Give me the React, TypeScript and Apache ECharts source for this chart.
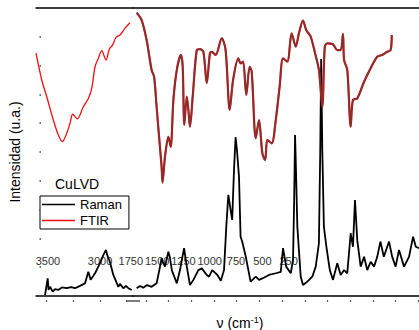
import React, { useEffect, useRef } from "react";
import * as echarts from "echarts";

// Raman spectrum, high-wavenumber segment [cm-1, intensity u.a.]
const ramanHigh: [number, number][] = [
  [3515, 0.003], [3490, 0.061], [3482, 0.021], [3468, 0.032], [3443, 0.015], [3421, 0.024],
  [3390, 0.021], [3356, 0.030], [3311, 0.027], [3271, 0.031], [3233, 0.027], [3186, 0.035],
  [3139, 0.044], [3108, 0.084], [3086, 0.056], [3045, 0.079], [2998, 0.114], [2967, 0.142],
  [2942, 0.160], [2928, 0.139], [2911, 0.125], [2895, 0.104], [2873, 0.073], [2853, 0.056],
  [2826, 0.032], [2810, 0.042], [2779, 0.027], [2754, 0.035], [2732, 0.027], [2700, 0.021],
];
// Raman spectrum, low-wavenumber segment
const ramanLow: [number, number][] = [
  [1741, 0.027], [1726, 0.035], [1712, 0.029], [1695, 0.038], [1675, 0.032], [1653, 0.044],
  [1641, 0.090], [1631, 0.131], [1625, 0.118], [1616, 0.102], [1601, 0.154], [1594, 0.132],
  [1586, 0.090], [1564, 0.044], [1550, 0.090], [1532, 0.166], [1520, 0.102], [1506, 0.038],
  [1491, 0.056], [1469, 0.090], [1454, 0.096], [1432, 0.073], [1422, 0.067], [1408, 0.090],
  [1385, 0.073], [1370, 0.053], [1356, 0.090], [1346, 0.241], [1337, 0.351], [1327, 0.299],
  [1320, 0.264], [1312, 0.438], [1305, 0.552], [1299, 0.507], [1290, 0.414], [1283, 0.206],
  [1276, 0.189], [1260, 0.136], [1239, 0.050], [1216, 0.067], [1202, 0.056], [1187, 0.061],
  [1158, 0.073], [1128, 0.079], [1106, 0.084], [1096, 0.166], [1082, 0.102], [1062, 0.079],
  [1052, 0.125], [1047, 0.333], [1043, 0.559], [1039, 0.438], [1033, 0.241], [1018, 0.067],
  [1008, 0.038], [989, 0.050], [967, 0.067], [952, 0.102], [938, 0.183], [932, 0.507],
  [928, 0.823], [923, 0.507], [916, 0.241], [905, 0.171], [890, 0.090], [876, 0.056],
  [857, 0.114], [842, 0.073], [827, 0.090], [813, 0.079], [798, 0.218], [788, 0.171],
  [779, 0.333], [769, 0.194], [754, 0.102], [739, 0.136], [725, 0.090], [710, 0.119],
  [695, 0.102], [681, 0.136], [667, 0.189], [652, 0.136], [629, 0.189], [615, 0.136],
  [600, 0.102], [585, 0.160], [563, 0.102], [541, 0.136], [523, 0.206], [511, 0.171],
  [497, 0.166],
];
// FTIR spectrum, high-wavenumber segment
const ftirHigh: [number, number][] = [
  [3600, 0.843], [3546, 0.750], [3499, 0.692], [3437, 0.611], [3390, 0.559], [3353, 0.536],
  [3311, 0.565], [3280, 0.600], [3255, 0.631], [3212, 0.615], [3155, 0.657], [3108, 0.686],
  [3076, 0.721], [3045, 0.796], [3014, 0.825], [2982, 0.852], [2942, 0.819], [2911, 0.857],
  [2879, 0.872], [2848, 0.898], [2810, 0.906], [2763, 0.930], [2716, 0.949],
];
// FTIR spectrum, low-wavenumber segment
const ftirLow: [number, number][] = [
  [1741, 0.984], [1719, 0.958], [1697, 0.889], [1675, 0.785], [1664, 0.761], [1653, 0.657],
  [1641, 0.542], [1631, 0.449], [1627, 0.394], [1616, 0.484], [1601, 0.553], [1591, 0.518],
  [1579, 0.681], [1564, 0.785], [1546, 0.837], [1538, 0.796], [1531, 0.594], [1520, 0.692],
  [1513, 0.646], [1506, 0.588], [1494, 0.692], [1476, 0.854], [1462, 0.857], [1447, 0.848],
  [1432, 0.739], [1418, 0.843], [1410, 0.848], [1393, 0.837], [1366, 0.895], [1349, 0.854],
  [1331, 0.646], [1316, 0.750], [1293, 0.825], [1283, 0.808], [1272, 0.814], [1258, 0.698],
  [1243, 0.796], [1234, 0.779], [1216, 0.548], [1202, 0.611], [1187, 0.495], [1175, 0.472],
  [1165, 0.542], [1146, 0.530], [1128, 0.611], [1111, 0.727], [1096, 0.825], [1077, 0.814],
  [1058, 0.912], [1040, 0.866], [1026, 0.912], [1008, 0.956], [994, 0.924], [974, 0.900],
  [955, 0.843], [938, 0.785], [923, 0.657], [912, 0.866], [901, 0.877], [876, 0.874],
  [857, 0.854], [842, 0.854], [832, 0.910], [827, 0.819], [813, 0.785], [798, 0.588],
  [788, 0.681], [769, 0.686], [739, 0.744], [710, 0.791], [681, 0.831], [659, 0.837],
  [637, 0.848], [622, 0.854], [617, 0.906],
];

// tick labels / tick values
const highLabels = [3500, 3000];
const lowLabels = [1750, 1500, 1250, 1000, 750, 500, 250];
const highTicks = [3500, 3250, 3000, 2750];
const lowTicks = [1700, 1600, 1500, 1400, 1300, 1200, 1100, 1000, 900, 800, 700, 600, 500];
const yTicks = [0.1, 0.2, 0.3, 0.4, 0.5, 0.6, 0.7, 0.8, 0.9];

const FONT = "'Liberation Sans', Arial, sans-serif";

export default function App() {
  const ref = useRef<HTMLDivElement>(null);
  useEffect(() => {
    if (!ref.current) return;
    const chart = echarts.init(ref.current, undefined, { renderer: "svg" });
    const hidden = { show: false };
    const lineAxis = (grid: number, min: number, max: number) => ({
      type: "value", gridIndex: grid, position: "bottom", min, max, inverse: true,
      axisLine: { show: true, onZero: false, lineStyle: { color: "#000", width: 1.5 } },
      axisTick: hidden, axisLabel: hidden, splitLine: hidden,
    });
    const tickAxis = (grid: number, min: number, max: number, ticks: number[]) => ({
      type: "value", gridIndex: grid, position: "bottom", offset: 4, min, max, inverse: true,
      axisLine: { show: false, onZero: false },
      axisTick: { show: true, customValues: ticks, length: 2, lineStyle: { color: "#555", width: 1.2 } },
      axisLabel: hidden, splitLine: hidden,
    });
    const labelAxis = (grid: number, min: number, max: number, labels: number[]) => ({
      type: "value", gridIndex: grid, position: "bottom", offset: -43, min, max, inverse: true,
      axisLine: { show: false, onZero: false }, axisTick: hidden, splitLine: hidden,
      axisLabel: {
        show: true, customValues: labels, margin: 2, fontSize: 11, color: "#333", fontFamily: FONT,
        hideOverlap: false, showMinLabel: true, showMaxLabel: true,
        formatter: (v: number) => String(v),
      },
    });
    const topAxis = (grid: number, min: number, max: number) => ({
      type: "value", gridIndex: grid, position: "top", min, max, inverse: true,
      axisLine: { show: true, onZero: false, lineStyle: { color: "#000", width: 1.5 } },
      axisTick: hidden, axisLabel: hidden, splitLine: hidden,
    });
    const option: any = {
      animation: false,
      backgroundColor: "#fff",
      textStyle: { fontFamily: FONT },
      title: {
        text: "CuLVD", left: 55, top: 177, padding: 0,
        textStyle: { fontSize: 14, fontWeight: "normal", color: "#000", fontFamily: FONT },
      },
      legend: {
        data: ["Raman", "FTIR"], orient: "vertical", left: 40, top: 196,
        icon: "rect", itemWidth: 33, itemHeight: 1.5, itemGap: 1, itemTextGap: 5,
        padding: [1, 7, 1, 2],
        borderColor: "#000", borderWidth: 1, backgroundColor: "#fff",
        textStyle: { fontSize: 13, color: "#000", fontFamily: FONT, lineHeight: 15 },
      },
      grid: [
        { left: 36, right: 286, top: 8, bottom: 34 },
        { left: 133, right: 0, top: 8, bottom: 34 },
        { left: 110, right: 109, top: 8, bottom: 34 },
      ],
      xAxis: [
        lineAxis(0, 2688, 3600),
        tickAxis(0, 2688, 3600, highTicks),
        labelAxis(0, 2683, 3615, highLabels),
        topAxis(0, 2688, 3600),
        lineAxis(1, 497, 1757),
        tickAxis(1, 497, 1757, lowTicks),
        topAxis(1, 497, 1757),
        labelAxis(2, 47, 1948, lowLabels),
      ],
      yAxis: [
        {
          type: "value", gridIndex: 0, min: 0, max: 1, offset: -5,
          name: "Intensidad (u.a.)", nameLocation: "middle", nameGap: 19,
          nameTextStyle: { fontSize: 14, color: "#000", fontFamily: FONT },
          axisLine: { show: false }, axisLabel: hidden, splitLine: hidden,
          axisTick: { show: true, customValues: yTicks, length: 1.5, lineStyle: { color: "#444", width: 1.5 } },
        },
        { type: "value", gridIndex: 1, min: 0, max: 1, show: false },
        { type: "value", gridIndex: 2, min: 0, max: 1, show: false },
      ],
      series: [
        {
          name: "Raman", type: "line", xAxisIndex: 0, yAxisIndex: 0, data: ramanHigh,
          symbol: "none", lineStyle: { color: "#000", width: 1.8 }, itemStyle: { color: "#000" },
        },
        {
          name: "FTIR", type: "line", xAxisIndex: 0, yAxisIndex: 0, data: ftirHigh,
          symbol: "none", smooth: 0.3, lineStyle: { color: "#f01010", width: 1.3 }, itemStyle: { color: "#f01010" },
        },
        {
          name: "Raman", type: "line", xAxisIndex: 4, yAxisIndex: 1, data: ramanLow,
          symbol: "none", lineStyle: { color: "#000", width: 1.8 }, itemStyle: { color: "#000" },
        },
        {
          name: "FTIR", type: "line", xAxisIndex: 4, yAxisIndex: 1, data: ftirLow,
          symbol: "none", smooth: 0.3, lineStyle: { color: "#e01515", width: 2.2 }, itemStyle: { color: "#f01010" },
        },
        {
          name: "FTIR overlay", type: "line", xAxisIndex: 4, yAxisIndex: 1, data: ftirLow,
          symbol: "none", smooth: 0.3, lineStyle: { color: "#5a3a3a", width: 1.8, opacity: 0.65 },
        },
      ],
      graphic: [
        {
          type: "text", x: 240, y: 323,
          style: {
            text: "{a|ν (cm}{b|-1}{a|)}", align: "center", verticalAlign: "middle",
            rich: {
              a: { fontSize: 14, fontFamily: FONT, fill: "#000" },
              b: { fontSize: 9, fontFamily: FONT, fill: "#000", verticalAlign: "top", padding: [0, 0, 6, 0] },
            },
          },
        },
        { type: "line", shape: { x1: 127, y1: 301, x2: 140, y2: 301 }, style: { stroke: "#000", lineWidth: 1 } },
      ],
    };
    chart.setOption(option);
    return () => chart.dispose();
  }, []);
  return <div ref={ref} style={{ position: "fixed", left: 0, top: 0, width: 419, height: 330 }} />;
}
